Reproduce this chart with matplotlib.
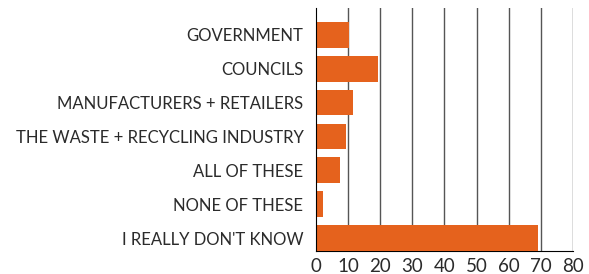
import matplotlib
matplotlib.use("Agg")
import matplotlib.pyplot as plt

categories = ["GOVERNMENT", "COUNCILS", "MANUFACTURERS + RETAILERS",
              "THE WASTE + RECYCLING INDUSTRY", "ALL OF THESE",
              "NONE OF THESE", "I REALLY DON'T KNOW"]
values = [10.3, 19.3, 11.5, 9.3, 7.5, 2.1, 69.2]
xticks = [0, 10, 20, 30, 40, 50, 60, 70, 80]

plt.rcParams["font.family"] = ["Lato", "DejaVu Sans"]

fig = plt.figure(figsize=(5.89, 2.74), dpi=100)
ax = fig.add_axes([0.5365, 0.0839, 0.9728 - 0.5365, 0.9708 - 0.0839])

y = list(range(len(categories)))
ax.barh(y, values, height=0.76, color="#E5621D", zorder=3)

ax.set_xlim(0, 80)
ax.set_ylim(6.38, -0.79)
ax.set_xticks(xticks)
ax.set_yticks(y)
ax.set_yticklabels(categories, fontsize=12, color="#2b2b2b")
ax.tick_params(axis="y", length=0, pad=9)
ax.tick_params(axis="x", length=0, labelsize=13.5, labelcolor="#2b2b2b", pad=5)

for t in xticks[1:]:
    ax.axvline(t, color="#555555", linewidth=1, zorder=1)

for side in ["top", "right"]:
    ax.spines[side].set_visible(False)
ax.spines["left"].set_color("black")
ax.spines["bottom"].set_color("black")
ax.spines["left"].set_zorder(4)

fig.savefig("out.png", dpi=100)
